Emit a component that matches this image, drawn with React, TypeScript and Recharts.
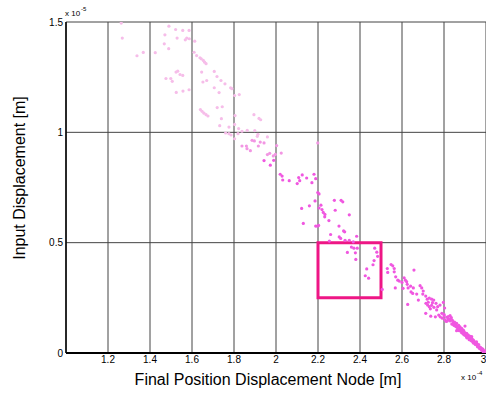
import React from "react";
import {
  ScatterChart,
  Scatter,
  XAxis,
  YAxis,
  CartesianGrid,
  ReferenceArea,
} from "recharts";

// x in units of 1e-4 m, y in units of 1e-5 m
const xTicks = [1.2, 1.4, 1.6, 1.8, 2.0, 2.2, 2.4, 2.6, 2.8, 3.0];
const yTicks = [0, 0.5, 1, 1.5];

const lightPoints: [number, number][] = [
  [1.263, 1.495], [1.268, 1.427], [1.338, 1.347], [1.368, 1.362], [1.425, 1.361],
  [1.468, 1.401], [1.471, 1.442], [1.49, 1.481], [1.489, 1.379], [1.522, 1.466],
  [1.529, 1.427], [1.556, 1.462], [1.568, 1.419], [1.575, 1.427], [1.586, 1.462],
  [1.587, 1.424], [1.613, 1.413], [1.61, 1.363], [1.622, 1.348], [1.638, 1.338],
  [1.644, 1.333], [1.654, 1.326], [1.66, 1.318], [1.667, 1.311], [1.646, 1.273],
  [1.652, 1.228], [1.67, 1.235], [1.706, 1.276], [1.719, 1.253], [1.738, 1.235],
  [1.757, 1.22], [1.706, 1.202], [1.729, 1.18], [1.784, 1.202], [1.79, 1.198],
  [1.803, 1.167], [1.825, 1.171], [1.524, 1.273], [1.532, 1.277], [1.543, 1.262],
  [1.556, 1.258], [1.476, 1.244], [1.499, 1.244], [1.506, 1.231], [1.525, 1.181],
  [1.557, 1.187], [1.586, 1.193], [1.64, 1.103], [1.648, 1.095], [1.657, 1.087],
  [1.667, 1.08], [1.676, 1.074], [1.72, 1.112], [1.744, 1.116], [1.74, 1.062],
  [1.732, 1.03], [1.76, 0.997], [1.776, 0.994], [1.786, 0.988], [1.803, 0.971],
  [1.819, 0.994], [1.838, 1.005], [1.805, 1.076], [1.803, 1.036], [1.822, 1.017],
  [1.776, 1.024], [1.895, 1.08], [1.919, 1.063], [1.927, 1.057], [1.863, 1.009],
  [1.899, 1.008], [1.914, 0.991], [1.911, 0.982], [1.959, 0.979],
];

const mediumPoints: [number, number][] = [
  [1.838, 0.938], [1.886, 0.964], [1.897, 0.961], [1.925, 0.956], [1.943, 0.952],
  [1.859, 0.938], [1.916, 0.938], [1.862, 0.926], [1.878, 0.917], [2.003, 0.94],
  [2.199, 0.952], [1.959, 0.899], [1.97, 0.905], [1.987, 0.893], [1.997, 0.9],
  [2.025, 0.906],
];

const strongPoints: [number, number][] = [
  [1.943, 0.872], [1.989, 0.873], [1.973, 0.851], [2.02, 0.81], [2.029, 0.802],
  [2.032, 0.784], [2.063, 0.781], [2.108, 0.795], [2.113, 0.781], [2.101, 0.768],
  [2.125, 0.807], [2.146, 0.793], [2.181, 0.81], [2.189, 0.79], [2.171, 0.772],
  [2.199, 0.727], [2.205, 0.721], [2.186, 0.689], [2.159, 0.667], [2.122, 0.655],
  [2.214, 0.67], [2.205, 0.657], [2.219, 0.65], [2.225, 0.637], [2.233, 0.628],
  [2.232, 0.617], [2.278, 0.692], [2.31, 0.692], [2.318, 0.685], [2.282, 0.647],
  [2.349, 0.626], [2.252, 0.6], [2.13, 0.587], [2.189, 0.575], [2.197, 0.575],
  [2.203, 0.578], [2.3, 0.575], [2.322, 0.553], [2.327, 0.549], [2.26, 0.537],
  [2.301, 0.526], [2.308, 0.519], [2.329, 0.511], [2.349, 0.511], [2.384, 0.529],
  [2.368, 0.504], [2.254, 0.507], [2.34, 0.456], [2.378, 0.454], [2.38, 0.424],
  [2.359, 0.48], [2.371, 0.475], [2.387, 0.475], [2.47, 0.475], [2.48, 0.457],
  [2.484, 0.438], [2.467, 0.419], [2.462, 0.4], [2.432, 0.381], [2.425, 0.35],
  [2.441, 0.339], [2.506, 0.288],
  [2.53, 0.383], [2.532, 0.365], [2.548, 0.401], [2.556, 0.395], [2.563, 0.383],
  [2.563, 0.368], [2.57, 0.345], [2.58, 0.33], [2.587, 0.326], [2.568, 0.295],
  [2.6, 0.32], [2.61, 0.341], [2.616, 0.33], [2.622, 0.323], [2.625, 0.311],
  [2.629, 0.295], [2.605, 0.293], [2.641, 0.303], [2.654, 0.295], [2.657, 0.376],
  [2.627, 0.22], [2.643, 0.277], [2.651, 0.27], [2.67, 0.267], [2.686, 0.305],
  [2.694, 0.295], [2.701, 0.281], [2.678, 0.24], [2.699, 0.267], [2.713, 0.258],
  [2.72, 0.244], [2.73, 0.249], [2.741, 0.244], [2.751, 0.24], [2.714, 0.225],
  [2.722, 0.217], [2.73, 0.21], [2.741, 0.216], [2.752, 0.207], [2.762, 0.225],
  [2.77, 0.21], [2.781, 0.217], [2.797, 0.229], [2.803, 0.204], [2.713, 0.18],
  [2.737, 0.167], [2.759, 0.164], [2.775, 0.172], [2.782, 0.164], [2.792, 0.158],
  [2.801, 0.169], [2.813, 0.162], [2.82, 0.154], [2.829, 0.169], [2.835, 0.16],
  [2.811, 0.143], [2.837, 0.131], [2.848, 0.125], [2.857, 0.119], [2.865, 0.109],
  [2.873, 0.101], [2.884, 0.092], [2.895, 0.083], [2.906, 0.077], [2.918, 0.068],
  [2.927, 0.059], [2.937, 0.05], [2.948, 0.041], [2.959, 0.032], [2.968, 0.023],
  [2.978, 0.014], [2.987, 0.005], [2.86, 0.134], [2.876, 0.119], [2.892, 0.104],
  [2.908, 0.089], [2.916, 0.081], [2.924, 0.067], [2.932, 0.074], [2.94, 0.059],
  [2.956, 0.044], [2.908, 0.071], [2.884, 0.112], [2.9, 0.122], [2.86, 0.101],
  [2.85, 0.13], [2.87, 0.11], [2.89, 0.095], [2.9, 0.09], [2.91, 0.075],
  [2.92, 0.072], [2.93, 0.065], [2.94, 0.052], [2.95, 0.045], [2.96, 0.036],
  [2.97, 0.028], [2.98, 0.02], [2.99, 0.01], [2.995, 0.004], [2.88, 0.1],
  [2.865, 0.115], [2.845, 0.138], [2.83, 0.145], [2.822, 0.15], [2.846, 0.128],
  [2.82, 0.165], [2.83, 0.155], [2.84, 0.148], [2.85, 0.14], [2.855, 0.124],
  [2.86, 0.122], [2.87, 0.125], [2.875, 0.105], [2.88, 0.108], [2.885, 0.1],
  [2.89, 0.088], [2.895, 0.098], [2.9, 0.08], [2.905, 0.085], [2.91, 0.068],
  [2.915, 0.075], [2.92, 0.06], [2.925, 0.075], [2.93, 0.055], [2.935, 0.062],
  [2.94, 0.045], [2.945, 0.052], [2.95, 0.038], [2.955, 0.05], [2.96, 0.028],
  [2.965, 0.038], [2.97, 0.02], [2.975, 0.025], [2.98, 0.012], [2.985, 0.018],
  [2.99, 0.006], [2.995, 0.01], [2.8, 0.175], [2.79, 0.18], [2.805, 0.15],
  [2.815, 0.145], [2.725, 0.23], [2.745, 0.228], [2.735, 0.2], [2.765, 0.195],
];

const toData = (pts: [number, number][]) => pts.map(([x, y]) => ({ x, y }));

const FONT = '"Liberation Sans", Arial, Helvetica, sans-serif';

const Dot = (props: any) => {
  const { cx, cy, fill } = props;
  if (cx == null || cy == null) return null;
  return <circle cx={cx} cy={cy} r={1.6} fill={fill} />;
};

const fmt = (v: number) => String(Number(v.toFixed(1)));

const XLabel = (props: any) => {
  const vb = props.viewBox || { x: 66, y: 353, width: 420, height: 41 };
  return (
    <g>
      <text
        x={268}
        y={vb.y + 32}
        textAnchor="middle"
        fontSize={16}
        fontFamily={FONT}
        fill="#000"
      >
        Final Position Displacement Node [m]
      </text>
      <text x={461} y={vb.y + 27} fontSize={8} fontFamily={FONT} fill="#000">
        x 10
      </text>
      <text x={477} y={vb.y + 22} fontSize={6} fontFamily={FONT} fill="#000">
        -4
      </text>
    </g>
  );
};

const YLabel = (props: any) => {
  const cy = 178;
  const cx = 25;
  return (
    <g>
      <text
        x={cx}
        y={cy}
        transform={`rotate(-90 ${cx} ${cy})`}
        textAnchor="middle"
        fontSize={16}
        fontFamily={FONT}
        fill="#000"
      >
        Input Displacement [m]
      </text>
      <text x={65} y={16} fontSize={8} fontFamily={FONT} fill="#000">
        x 10
      </text>
      <text x={81} y={11} fontSize={6} fontFamily={FONT} fill="#000">
        -5
      </text>
    </g>
  );
};

export default function App() {
  return (
    <div style={{ position: "absolute", left: 0, top: 0, width: 486, height: 394, background: "#fff" }}>
      <ScatterChart
        width={486}
        height={394}
        margin={{ top: 22, right: 0, bottom: 0, left: 0 }}
      >
        <CartesianGrid stroke="#444" strokeWidth={1} />
        <XAxis
          type="number"
          dataKey="x"
          domain={[1, 3]}
          ticks={xTicks}
          tickFormatter={fmt}
          allowDataOverflow
          height={41}
          tickLine={false}
          tickSize={3}
          tickMargin={0}
          axisLine={{ stroke: "#000", strokeWidth: 2 }}
          tick={{ fontSize: 10, fill: "#000", fontFamily: FONT }}
          label={<XLabel />}
        />
        <YAxis
          type="number"
          dataKey="y"
          domain={[0, 1.5]}
          ticks={yTicks}
          tickFormatter={fmt}
          allowDataOverflow
          width={66}
          tickLine={false}
          tickSize={3}
          tickMargin={0}
          axisLine={{ stroke: "#000", strokeWidth: 1.5 }}
          tick={{ fontSize: 10, fill: "#000", fontFamily: FONT }}
          label={<YLabel />}
        />
        <Scatter
          data={toData(lightPoints)}
          fill="#f6bde9"
          shape={<Dot />}
          isAnimationActive={false}
        />
        <Scatter
          data={toData(mediumPoints)}
          fill="#f296e3"
          shape={<Dot />}
          isAnimationActive={false}
        />
        <Scatter
          data={toData(strongPoints)}
          fill="#f057e0"
          shape={<Dot />}
          isAnimationActive={false}
        />
        <ReferenceArea
          x1={2.2}
          x2={2.5}
          y1={0.25}
          y2={0.5}
          fill="none"
          fillOpacity={0}
          stroke="#ee1685"
          strokeWidth={3}
          ifOverflow="visible"
        />
      </ScatterChart>
    </div>
  );
}
